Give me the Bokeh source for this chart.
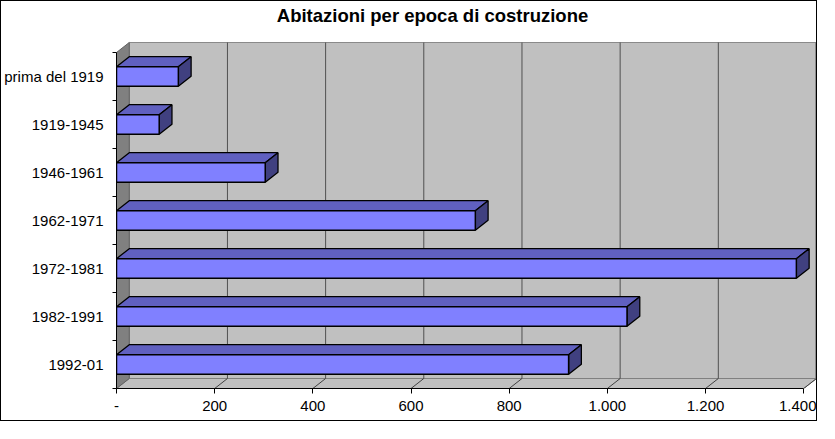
from bokeh.plotting import figure
from bokeh.models import Range1d, FixedTicker, LinearAxis, Label
from bokeh.embed import file_html
from bokeh.resources import INLINE

# ---- data ----
categories = ["1992-01", "1982-1991", "1972-1981", "1962-1971", "1946-1961", "1919-1945", "prima del 1919"]
values = [921, 1040, 1385, 731, 303, 87, 126]
x_ticks = [0, 200, 400, 600, 800, 1000, 1200, 1400]
x_tick_labels = ["-", "200", "400", "600", "800", "1.000", "1.200", "1.400"]
chart_title = "Abitazioni per epoca di costruzione"

# ---- layout / 3D geometry ----
W, HGT = 817, 421
BORDER_L, BORDER_R, BORDER_B = 115, 2, 34
FRAME_W = W - BORDER_L - BORDER_R          # 700 px
FRAME_H = HGT - BORDER_B                   # frame reaches the top of the canvas
PX_PER_CAT = 48.0

XMAX = x_ticks[-1]
N = len(categories)
DX = 26.0                   # depth offset along x (value units)
DY = 10.0 / PX_PER_CAT      # depth offset along y (category units)
H = 0.205                   # half height of bar front face
X_END = XMAX + DX
Y_END = FRAME_H / PX_PER_CAT
PX_PER_X = FRAME_W / X_END

FONT = "Liberation Sans"

p = figure(width=W, height=HGT, output_backend="svg", toolbar_location=None,
           x_range=Range1d(0, X_END), y_range=Range1d(0, Y_END),
           x_axis_type=None, y_axis_type=None,
           min_border_left=BORDER_L, min_border_right=BORDER_R,
           min_border_top=0, min_border_bottom=BORDER_B)
p.styles = {"border": "1px solid black"}
p.outline_line_color = None
p.background_fill_color = "white"
p.border_fill_color = "white"

# back wall
p.quad(left=DX, right=XMAX + DX, bottom=DY, top=N + DY,
       fill_color="#c0c0c0", line_color="#8a8a8a", line_width=1)
# floor
p.patch([0, XMAX, XMAX + DX, DX], [0, 0, DY, DY],
        fill_color="#c0c0c0", line_color="#808080", line_width=1)
# left wall
p.patch([0, DX, DX, 0], [0, DY, N + DY, N],
        fill_color="#808080", line_color="#606060", line_width=1)

# gridlines on back wall and floor
inner = x_ticks[1:-1]
p.segment(x0=[v + DX for v in inner], y0=DY, x1=[v + DX for v in inner], y1=N + DY,
          line_color="#505050", line_width=1)
p.segment(x0=[XMAX + DX], y0=DY, x1=[XMAX + DX], y1=N + DY,
          line_color="#7a7a7a", line_width=2.5)
p.segment(x0=x_ticks[1:], y0=0, x1=[v + DX for v in x_ticks[1:]], y1=DY,
          line_color="#404040", line_width=1)

# bars
centers = [i + 0.5 for i in range(N)]
top_xs = [[0, v, v + DX, DX] for v in values]
top_ys = [[c + H, c + H, c + H + DY, c + H + DY] for c in centers]
side_xs = [[v, v + DX, v + DX, v] for v in values]
side_ys = [[c - H, c - H + DY, c + H + DY, c + H] for c in centers]
p.patches(top_xs, top_ys, fill_color="#6060c0", line_color="black", line_width=1.3)
p.patches(side_xs, side_ys, fill_color="#404080", line_color="black", line_width=1.3)
p.quad(left=0, right=values, bottom=[c - H for c in centers], top=[c + H for c in centers],
       fill_color="#8080ff", line_color="black", line_width=1.5)

# axes
xaxis = LinearAxis(ticker=FixedTicker(ticks=x_ticks, minor_ticks=[]),
                   major_label_overrides={t: l for t, l in zip(x_ticks, x_tick_labels)},
                   bounds=(0, XMAX), axis_line_color="black", axis_line_width=1,
                   major_tick_out=5, major_tick_in=0, minor_tick_out=0, minor_tick_in=0,
                   major_tick_line_color="black",
                   major_label_standoff=7, major_label_text_font=FONT,
                   major_label_text_font_size="15px", major_label_text_color="black")
p.add_layout(xaxis, "below")

yaxis = LinearAxis(ticker=FixedTicker(ticks=centers, minor_ticks=list(range(N + 1))),
                   major_label_overrides={c: l for c, l in zip(centers, categories)},
                   bounds=(0, N), axis_line_color="black", axis_line_width=1,
                   major_tick_out=0, major_tick_in=0, minor_tick_out=4, minor_tick_in=0,
                   minor_tick_line_color="black",
                   major_label_standoff=9, major_label_text_font=FONT,
                   major_label_text_font_size="15px", major_label_text_color="black")
p.add_layout(yaxis, "left")

# chart title (positioned in the white area above the 3D box)
title_label = Label(x=316 / PX_PER_X, y=Y_END - 14 / PX_PER_CAT,
                    text=chart_title, text_align="center", text_baseline="middle",
                    text_font=FONT, text_font_style="bold", text_font_size="18.5px",
                    text_color="black")
p.add_layout(title_label)

open("out.html", "w").write(file_html(p, INLINE))
